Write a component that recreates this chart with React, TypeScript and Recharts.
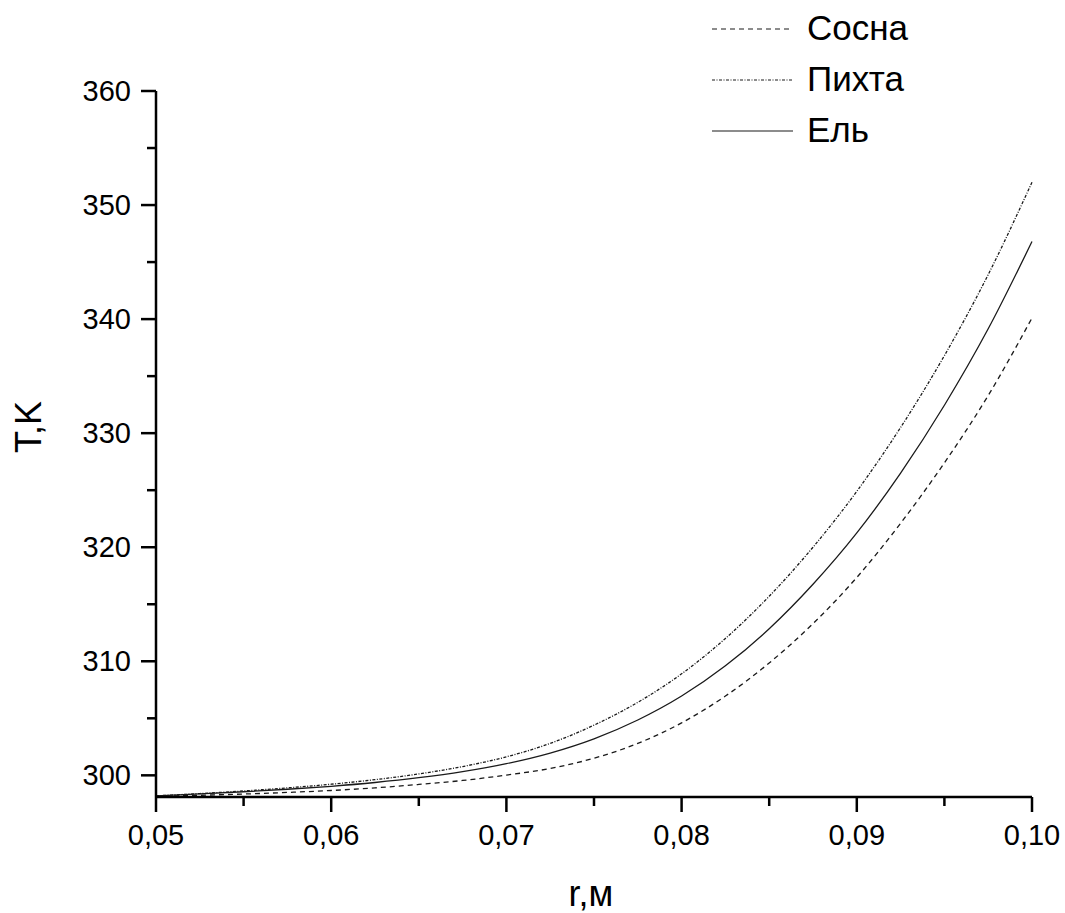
import { LineChart, Line, XAxis, YAxis, Legend } from "recharts";

// radius, m
const R = [
  0.05, 0.0525, 0.055, 0.0575, 0.06, 0.0625, 0.065, 0.0675, 0.07, 0.0725, 0.075,
  0.0775, 0.08, 0.0825, 0.085, 0.0875, 0.09, 0.0925, 0.095, 0.0975, 0.1,
];

// temperature, K
const SOSNA = [
  298.15, 298.25, 298.36, 298.5, 298.67, 298.9, 299.2, 299.55, 300.02, 300.6, 301.5,
  302.8, 304.6, 306.95, 309.85, 313.3, 317.35, 322.1, 327.4, 333.3, 340.1,
];
const PIHTA = [
  298.2, 298.4, 298.63, 298.9, 299.22, 299.62, 300.12, 300.77, 301.62, 302.8, 304.4,
  306.4, 308.9, 312.0, 315.7, 320.0, 324.9, 330.5, 336.8, 343.9, 352.0,
];
const EL = [
  298.2, 298.37, 298.56, 298.78, 299.04, 299.37, 299.79, 300.32, 301.02, 301.95, 303.2,
  304.85, 306.95, 309.6, 312.85, 316.75, 321.25, 326.5, 332.45, 339.15, 346.8,
];

const X_TICKS = [
  0.05, 0.055, 0.06, 0.065, 0.07, 0.075, 0.08, 0.085, 0.09, 0.095, 0.1,
];
const Y_TICKS = [300, 305, 310, 315, 320, 325, 330, 335, 340, 345, 350, 355, 360];

const SERIES = [
  { key: "sosna", name: "Сосна", dash: "5 4" },
  { key: "pihta", name: "Пихта", dash: "3 1.5 1 1.5" },
  { key: "el", name: "Ель", dash: undefined as string | undefined },
];

const data = R.map((r, i) => ({
  r,
  sosna: SOSNA[i],
  pihta: PIHTA[i],
  el: EL[i],
}));

const FONT = "'Liberation Sans', Arial, sans-serif";
const INK = "#000";
const LINE = "#1a1a1a";

const W = 1065;
const H = 913;
const PLOT_BOTTOM = 797;

function XTick(props: any) {
  const { x, y, payload } = props;
  const v: number = payload.value;
  const major = Math.round(v * 1000) % 10 === 0;
  return (
    <g>
      <line x1={x} x2={x} y1={y} y2={y + (major ? 15 : 9)} stroke={INK} strokeWidth={2.5} />
      {major && (
        <text x={x} y={y + 48} textAnchor="middle" fontSize={29} fontFamily={FONT} fill={INK}>
          {v.toFixed(2).replace(".", ",")}
        </text>
      )}
    </g>
  );
}

function YTick(props: any) {
  const { x, y, payload } = props;
  const v: number = payload.value;
  const major = v % 10 === 0;
  return (
    <g>
      <line x1={x} x2={x - (major ? 15 : 9)} y1={y} y2={y} stroke={INK} strokeWidth={2.5} />
      {major && (
        <text x={x - 25} y={y + 10} textAnchor="end" fontSize={29} fontFamily={FONT} fill={INK}>
          {v}
        </text>
      )}
    </g>
  );
}

function LegendBox(props: any) {
  const payload: any[] = props.payload ?? [];
  const items = SERIES.filter((s) => payload.some((p) => p.value === s.name));
  return (
    <svg width={300} height={165}>
      {items.map((s, i) => {
        const cy = 29 + i * 51;
        return (
          <g key={s.key}>
            <line
              x1={12}
              x2={93}
              y1={cy}
              y2={cy}
              stroke={LINE}
              strokeWidth={1.2}
              strokeDasharray={s.dash}
            />
            <text x={107} y={cy + 11} fontSize={35} fontFamily={FONT} fill={INK}>
              {s.name}
            </text>
          </g>
        );
      })}
    </svg>
  );
}

export default function App() {
  return (
    <div style={{ position: "absolute", left: 0, top: 0, width: W, height: H, background: "#fff" }}>
      <LineChart width={W} height={H} data={data} margin={{ top: 91, right: 33, left: 0, bottom: 0 }}>
        <XAxis
          dataKey="r"
          type="number"
          domain={[0.05, 0.1]}
          ticks={X_TICKS}
          interval={0}
          height={H - PLOT_BOTTOM}
          tickSize={0}
          tickMargin={0}
          tick={XTick}
          axisLine={{ stroke: INK, strokeWidth: 2.5 }}
          label={{
            value: "r,м",
            content: () => (
              <text x={591} y={906} textAnchor="middle" fontSize={36} fontFamily={FONT} fill={INK}>
                r,м
              </text>
            ),
          }}
        />
        <YAxis
          type="number"
          domain={[298.1, 360]}
          ticks={Y_TICKS}
          interval={0}
          width={156}
          tickSize={0}
          tickMargin={0}
          tick={YTick}
          axisLine={{ stroke: INK, strokeWidth: 2.5 }}
          label={{
            value: "T,K",
            content: () => (
              <text
                x={41}
                y={427}
                transform="rotate(-90 41 427)"
                textAnchor="middle"
                fontSize={36}
                fontFamily={FONT}
                fill={INK}
              >
                T,K
              </text>
            ),
          }}
        />
        <Legend
          layout="vertical"
          align="center"
          verticalAlign="middle"
          content={LegendBox}
          wrapperStyle={{ position: "absolute", left: 700, top: 0, width: 300, height: 165 }}
        />
        {SERIES.map((s) => (
          <Line
            key={s.key}
            dataKey={s.key}
            name={s.name}
            type="monotone"
            stroke={LINE}
            strokeWidth={1.3}
            strokeDasharray={s.dash}
            dot={false}
            activeDot={false}
            isAnimationActive={false}
          />
        ))}
      </LineChart>
    </div>
  );
}
